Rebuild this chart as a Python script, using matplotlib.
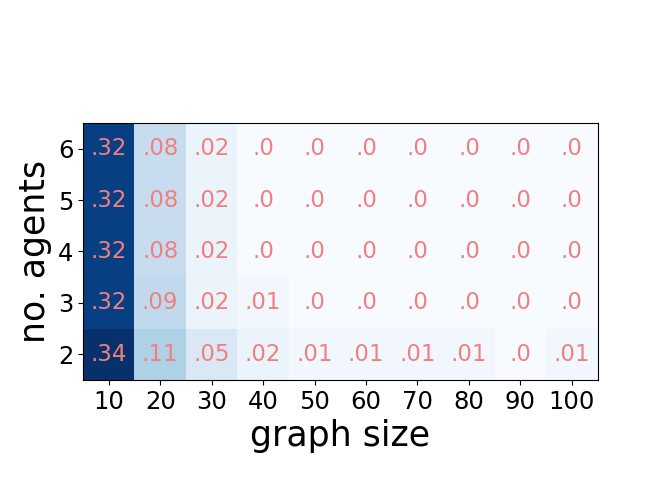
import numpy as np
import matplotlib
matplotlib.use("Agg")
import matplotlib.pyplot as plt

graph_sizes = [10, 20, 30, 40, 50, 60, 70, 80, 90, 100]
agents = [2, 3, 4, 5, 6]

# rows follow agents (2 at bottom), columns follow graph size
row_2 = [0.34, 0.11, 0.05, 0.02, 0.01, 0.01, 0.01, 0.01, 0.0, 0.01]
row_3 = [0.32, 0.09, 0.02, 0.01, 0.0, 0.0, 0.0, 0.0, 0.0, 0.0]
row_4 = [0.32, 0.08, 0.02, 0.0, 0.0, 0.0, 0.0, 0.0, 0.0, 0.0]
row_5 = [0.32, 0.08, 0.02, 0.0, 0.0, 0.0, 0.0, 0.0, 0.0, 0.0]
row_6 = [0.32, 0.08, 0.02, 0.0, 0.0, 0.0, 0.0, 0.0, 0.0, 0.0]

data = np.array([row_2, row_3, row_4, row_5, row_6])

fig = plt.figure(figsize=(6.64, 4.98), dpi=100)
ax = fig.add_subplot(111)
ax.imshow(data, cmap="Blues", origin="lower")

for i in range(len(agents)):
    for j in range(len(graph_sizes)):
        label = str(round(data[i, j], 2)).replace("0.", ".", 1)
        ax.text(j, i, label, ha="center", va="center", color="lightcoral", fontsize=16.5)

ax.set_xticks(np.arange(len(graph_sizes)))
ax.set_xticklabels(graph_sizes)
ax.set_yticks(np.arange(len(agents)))
ax.set_yticklabels(agents)
ax.tick_params(labelsize=17.5)
plt.xlabel("graph size", fontsize=25)
plt.ylabel("no. agents", fontsize=25)

plt.savefig("out.png", dpi=100)
